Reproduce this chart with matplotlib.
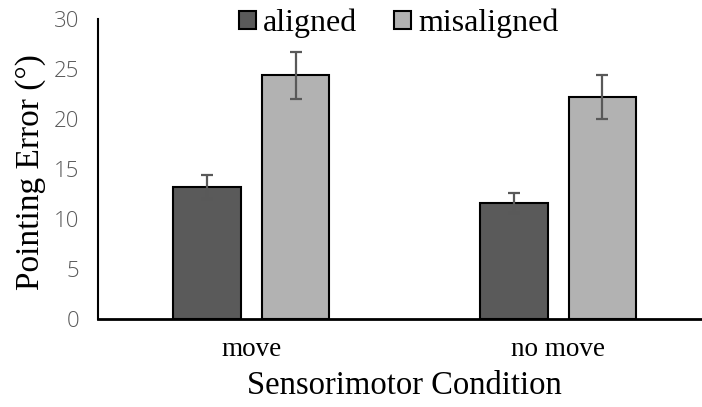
import numpy as np
import matplotlib
matplotlib.use("Agg")
import matplotlib.pyplot as plt

# data
conditions = ["move", "no move"]
aligned = [13.2, 11.6]
aligned_err = [1.2, 1.0]
misaligned = [24.4, 22.2]
misaligned_err = [2.35, 2.2]

fig = plt.figure(figsize=(7.02, 4.07), dpi=100)
ax = fig.add_axes([98 / 702, 88 / 407, 613.5 / 702, 300 / 407])

x = np.arange(len(conditions))
w = 0.22
off = 0.144
err_kw = dict(ecolor="#595959", elinewidth=1.6, capsize=4.5, capthick=1.6)

ax.bar(x - off, aligned, w, yerr=aligned_err, color="#5a5a5a",
       edgecolor="black", linewidth=1.5, label="aligned", error_kw=err_kw)
ax.bar(x + off, misaligned, w, yerr=misaligned_err, color="#b2b2b2",
       edgecolor="black", linewidth=1.5, label="misaligned", error_kw=err_kw)

ax.set_xlim(-0.5, 1.5)
ax.set_ylim(0, 30)
ax.set_yticks(range(0, 31, 5))
ax.tick_params(axis="y", length=0, pad=13.5, labelsize=16, labelcolor="#595959")
for lbl in ax.get_yticklabels():
    lbl.set_family("Open Sans")
    lbl.set_fontweight("light")
ax.set_xticks(x)
ax.set_xticklabels(conditions, family="Liberation Serif", fontsize=19.5)
ax.tick_params(axis="x", length=0, pad=13)

for s in ["top", "right"]:
    ax.spines[s].set_visible(False)
ax.spines["left"].set_linewidth(1.5)
ax.spines["bottom"].set_linewidth(2)

ax.set_ylabel("Pointing Error (°)", family="Liberation Serif", fontsize=24)
ax.yaxis.set_label_coords(-0.085, 0.49)
ax.set_xlabel("Sensorimotor Condition", family="Liberation Serif", fontsize=23.5)
ax.xaxis.set_label_coords(0.5, -0.17)

ax.legend(loc="center", bbox_to_anchor=(0.49, 0.985), ncol=2, frameon=False,
          prop={"family": "Liberation Serif", "size": 23},
          handlelength=0.53, handleheight=0.53, handletextpad=0.22,
          columnspacing=1.15, borderpad=0, borderaxespad=0)

fig.savefig("out.png", dpi=100)
